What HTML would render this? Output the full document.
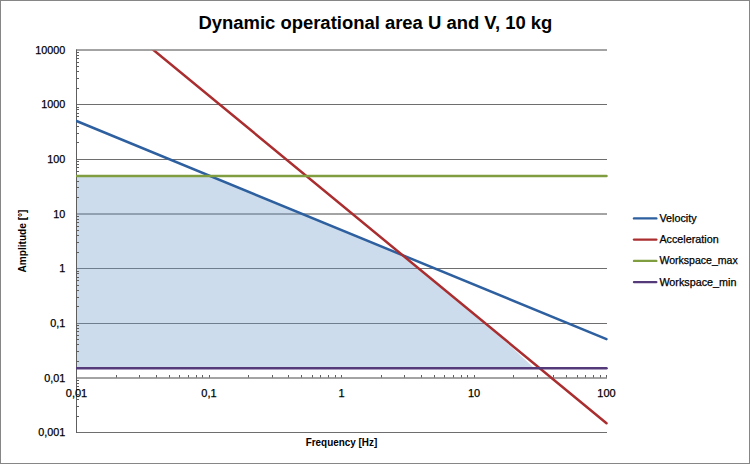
<!DOCTYPE html><html><head><meta charset="utf-8"><style>html,body{margin:0;padding:0;background:#fff;}svg{display:block;}text{font-family:"Liberation Sans",Arial,sans-serif;fill:#000;stroke:#000;stroke-width:0.25px;} text.b{stroke:none;}</style></head><body>
<svg width="750" height="464" viewBox="0 0 750 464">
<rect x="0" y="0" width="750" height="464" fill="#fff"/>
<rect x="0.5" y="0.5" width="749" height="463" fill="none" stroke="#868686" stroke-width="1"/>
<line x1="76" y1="50.0" x2="607.0" y2="50.0" stroke="#484848" stroke-width="1"/>
<line x1="76" y1="104.5" x2="607.0" y2="104.5" stroke="#6E6E6E" stroke-width="1"/>
<line x1="76" y1="159.5" x2="607.0" y2="159.5" stroke="#6E6E6E" stroke-width="1"/>
<line x1="76" y1="214.0" x2="607.0" y2="214.0" stroke="#484848" stroke-width="1"/>
<line x1="76" y1="268.5" x2="607.0" y2="268.5" stroke="#6E6E6E" stroke-width="1"/>
<line x1="76" y1="323.5" x2="607.0" y2="323.5" stroke="#6E6E6E" stroke-width="1"/>
<line x1="76" y1="432.5" x2="607.0" y2="432.5" stroke="#6E6E6E" stroke-width="1"/>
<polygon points="76.5,175.9 209.9,175.9 402.5,255.1 493.3,330 534,368.0 76.5,368.0" fill="rgb(110,156,201)" fill-opacity="0.352"/>
<line x1="76" y1="378.0" x2="607.0" y2="378.0" stroke="#484848" stroke-width="1"/>
<line x1="76.5" y1="49.5" x2="76.5" y2="433" stroke="#5E5E5E" stroke-width="1"/>
<path d="M77 416.5h2 M77 406.5h2 M77 399.5h2 M77 394.5h2 M77 389.5h2 M77 386.5h2 M77 383.5h2 M77 380.5h2 M77 361.5h2 M77 351.5h2 M77 344.5h2 M77 339.5h2 M77 335.5h2 M77 331.5h2 M77 328.5h2 M77 325.5h2 M77 306.5h2 M77 297.5h2 M77 290.5h2 M77 285.5h2 M77 280.5h2 M77 277.5h2 M77 273.5h2 M77 271.5h2 M77 252.5h2 M77 242.5h2 M77 235.5h2 M77 230.5h2 M77 226.5h2 M77 222.5h2 M77 219.5h2 M77 216.5h2 M77 197.5h2 M77 187.5h2 M77 181.5h2 M77 175.5h2 M77 171.5h2 M77 167.5h2 M77 164.5h2 M77 161.5h2 M77 142.5h2 M77 133.5h2 M77 126.5h2 M77 121.5h2 M77 116.5h2 M77 113.5h2 M77 109.5h2 M77 107.5h2 M77 88.5h2 M77 78.5h2 M77 71.5h2 M77 66.5h2 M77 62.5h2 M77 58.5h2 M77 55.5h2 M77 52.5h2 M116.5 377.5v-2.5 M139.5 377.5v-2.5 M156.5 377.5v-2.5 M169.5 377.5v-2.5 M179.5 377.5v-2.5 M188.5 377.5v-2.5 M196.5 377.5v-2.5 M202.5 377.5v-2.5 M248.5 377.5v-2.5 M272.5 377.5v-2.5 M288.5 377.5v-2.5 M301.5 377.5v-2.5 M312.5 377.5v-2.5 M320.5 377.5v-2.5 M328.5 377.5v-2.5 M335.5 377.5v-2.5 M381.5 377.5v-2.5 M404.5 377.5v-2.5 M421.5 377.5v-2.5 M434.5 377.5v-2.5 M444.5 377.5v-2.5 M453.5 377.5v-2.5 M461.5 377.5v-2.5 M467.5 377.5v-2.5 M513.5 377.5v-2.5 M537.5 377.5v-2.5 M553.5 377.5v-2.5 M566.5 377.5v-2.5 M577.5 377.5v-2.5 M585.5 377.5v-2.5 M593.5 377.5v-2.5 M600.5 377.5v-2.5 M209.5 377.5v-2.5 M341.5 377.5v-2.5 M474.5 377.5v-2.5 M606.5 377.5v-2.5" stroke="#5E5E5E" stroke-width="1" fill="none"/>
<defs><clipPath id="pc"><rect x="76" y="50.4" width="534" height="390"/></clipPath></defs>
<g clip-path="url(#pc)" fill="none" stroke-width="2.5" stroke-linecap="round">
<line x1="76.5" y1="121" x2="606.5" y2="339.1" stroke="#2E60A0"/>
<line x1="140" y1="38.94" x2="606.5" y2="423.2" stroke="#AA2E2F"/>
<line x1="76.5" y1="175.9" x2="606.5" y2="175.9" stroke="#809E40"/>
<line x1="76.5" y1="368.2" x2="606.5" y2="368.2" stroke="#553A7A"/>
</g>
<text x="65.3" y="53.9" font-size="10.8" text-anchor="end">10000</text>
<text x="65.3" y="108.4" font-size="10.8" text-anchor="end">1000</text>
<text x="65.3" y="163.4" font-size="10.8" text-anchor="end">100</text>
<text x="65.3" y="217.9" font-size="10.8" text-anchor="end">10</text>
<text x="65.3" y="272.4" font-size="10.8" text-anchor="end">1</text>
<text x="65.3" y="327.4" font-size="10.8" text-anchor="end">0,1</text>
<text x="65.3" y="381.9" font-size="10.8" text-anchor="end">0,01</text>
<text x="65.3" y="436.4" font-size="10.8" text-anchor="end">0,001</text>
<text x="76.5" y="397.1" font-size="11" text-anchor="middle">0,01</text>
<text x="209.0" y="397.1" font-size="11" text-anchor="middle">0,1</text>
<text x="341.5" y="397.1" font-size="11" text-anchor="middle">1</text>
<text x="474.0" y="397.1" font-size="11" text-anchor="middle">10</text>
<text x="606.5" y="397.1" font-size="11" text-anchor="middle">100</text>
<text class="b" x="341.5" y="445.6" font-size="10.5" font-weight="bold" text-anchor="middle" textLength="71.6" lengthAdjust="spacingAndGlyphs">Frequency [Hz]</text>
<text class="b" transform="translate(26.2 241) rotate(-90)" x="0" y="0" font-size="10.3" font-weight="bold" text-anchor="middle" textLength="63" lengthAdjust="spacingAndGlyphs">Amplitude [°]</text>
<text class="b" x="375.4" y="29.1" font-size="18.8" font-weight="bold" text-anchor="middle" textLength="354" lengthAdjust="spacingAndGlyphs">Dynamic operational area U and V, 10 kg</text>
<line x1="634" y1="218.4" x2="656.3" y2="218.4" stroke="#2E60A0" stroke-width="2.4" stroke-linecap="round"/>
<text x="659.4" y="221.8" font-size="10.6" textLength="37.2" lengthAdjust="spacingAndGlyphs">Velocity</text>
<line x1="634" y1="239.6" x2="656.3" y2="239.6" stroke="#AA2E2F" stroke-width="2.4" stroke-linecap="round"/>
<text x="659.4" y="243.0" font-size="10.6" textLength="59.3" lengthAdjust="spacingAndGlyphs">Acceleration</text>
<line x1="634" y1="260.9" x2="656.3" y2="260.9" stroke="#809E40" stroke-width="2.4" stroke-linecap="round"/>
<text x="659.4" y="264.3" font-size="10.6" textLength="78.3" lengthAdjust="spacingAndGlyphs">Workspace_max</text>
<line x1="634" y1="282.1" x2="656.3" y2="282.1" stroke="#553A7A" stroke-width="2.4" stroke-linecap="round"/>
<text x="659.4" y="285.5" font-size="10.6" textLength="77" lengthAdjust="spacingAndGlyphs">Workspace_min</text>
</svg></body></html>
